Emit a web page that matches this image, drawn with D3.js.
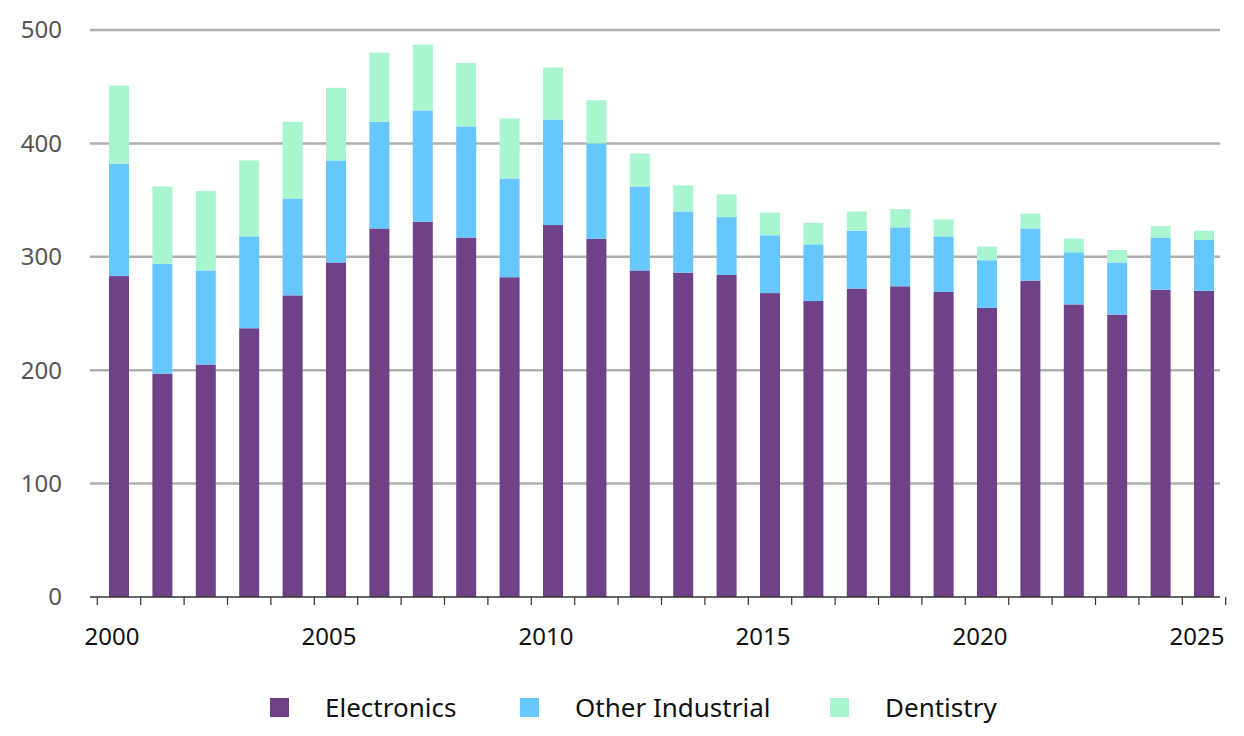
<!DOCTYPE html>
<html><head><meta charset="utf-8">
<script src="https://cdn.jsdelivr.net/npm/d3@7"></script>
<style>body{margin:0;background:#fff;font-family:"Noto Sans","Open Sans",sans-serif;}</style>
</head><body><div id="chart"></div>
<script>
var years = d3.range(2000, 2026);
var electronics = [283,197,205,237,266,295,325,331,317,282,328,316,288,286,284,268,261,272,274,269,255,279,258,249,271,270];
var otherIndustrial = [99,97,83,81,85,90,94,98,98,87,93,84,74,54,51,51,50,51,52,49,42,46,46,46,46,45];
var dentistry = [69,68,70,67,68,64,61,58,56,53,46,38,29,23,20,20,19,17,16,15,12,13,12,11,10,8];
var seriesNames = ["Electronics", "Other Industrial", "Dentistry"];
var colors = ["#6f4287", "#66c7ff", "#a8f5d0"];
var yTicks = [0,100,200,300,400,500];

var W = 1244, H = 736;
var svg = d3.select("#chart").append("svg").attr("width", W).attr("height", H);

var x = d3.scaleLinear().domain([2000, 2025]).range([119, 1204]);
var y = d3.scaleLinear().domain([0, 500]).range([597, 30]);
var barW = 20;

// grid
svg.append("g").selectAll("line").data(yTicks.slice(1)).enter().append("line")
	.attr("x1", 90).attr("x2", 1220)
	.attr("y1", function(d) { return y(d); }).attr("y2", function(d) { return y(d); })
	.style("stroke", "#b0b0b0").style("stroke-width", 2.5);

svg.append("g").selectAll("text").data(yTicks).enter().append("text")
	.attr("x", 62).attr("y", function(d) { return y(d); }).attr("dy", ".35em")
	.attr("text-anchor", "end").style("font-size", "24px").style("fill", "#555")
	.text(function(d) { return d; });

// stacked bars
var table = years.map(function(yr, i) {
	return {year: yr, Electronics: electronics[i], "Other Industrial": otherIndustrial[i], Dentistry: dentistry[i]};
});
var stack = d3.stack().keys(seriesNames)(table);
svg.append("g").selectAll("g").data(stack).enter().append("g")
	.style("fill", function(d, i) { return colors[i]; })
	.selectAll("rect").data(function(d) { return d; }).enter().append("rect")
	.attr("x", function(d) { return x(d.data.year) - barW / 2; })
	.attr("width", barW)
	.attr("y", function(d) { return y(d[1]); })
	.attr("height", function(d) { return y(d[0]) - y(d[1]); });

// x axis
var axis = svg.append("g");
axis.append("line").attr("x1", 90).attr("x2", 1220).attr("y1", y(0)).attr("y2", y(0))
	.style("stroke", "#333").style("stroke-width", 1.5);
axis.selectAll(".tick").data(d3.range(1999.5, 2026, 1)).enter().append("line")
	.attr("x1", function(d) { return x(d); }).attr("x2", function(d) { return x(d); })
	.attr("y1", y(0)).attr("y2", y(0) + 8)
	.style("stroke", "#333").style("stroke-width", 1.2);
axis.selectAll("text").data(years.filter(function(d) { return d % 5 === 0; })).enter().append("text")
	.attr("x", function(d) { return x(d) - 7; }).attr("y", 645)
	.attr("text-anchor", "middle").style("font-size", "24px").style("fill", "#111")
	.text(function(d) { return d; });

// legend
var legX = [270, 520, 830];
var legend = svg.append("g").selectAll("g").data(seriesNames).enter().append("g")
	.attr("transform", function(d, i) { return "translate(" + legX[i] + ",698)"; });
legend.append("rect").attr("width", 19).attr("height", 19).attr("y", 0)
	.style("fill", function(d, i) { return colors[i]; });
legend.append("text").attr("x", 55).attr("y", 10).attr("dy", ".35em")
	.style("font-size", "26px").style("fill", "#111")
	.text(function(d) { return d; });
</script>
</body></html>
